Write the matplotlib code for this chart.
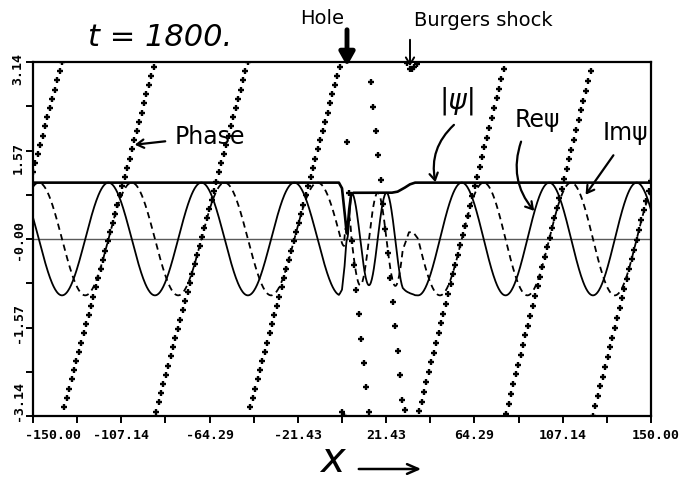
import numpy as np
import matplotlib
matplotlib.use('Agg')
from matplotlib import pyplot as plt
from matplotlib import transforms
from matplotlib.ticker import FixedLocator

# unwrapped phase of psi (x, radians)
phase_x = [-150.0, 1.0, 2.4, 4.6, 29.5, 32.5, 34.5, 36.9, 150.0]
phase_u = [1.18, 22.21, 20.50, 18.85, 9.64, 9.30, 9.30, 9.42, 26.16]

# |psi|
amp_x = [-150.0, -1.5, 0.0, 1.2, 2.4, 3.4, 4.4, 5.5, 24.0, 27.0, 30.0, 33.0, 35.5, 150.0]
amp_v = [1.0, 1.0, 0.9, 0.5, 0.05, 0.5, 0.78, 0.82, 0.82, 0.84, 0.9, 0.97, 1.0, 1.0]

xticks = [-150.00, -107.14, -64.29, -21.43, 21.43, 64.29, 107.14, 150.00]
xticklabels = ['-150.00', '-107.14', '-64.29', '-21.43', '21.43', '64.29', '107.14', '150.00']
yticks = [-3.14, -1.57, 0.0, 1.57, 3.14]
yticklabels = ['-3.14', '-1.57', '-0.00', '1.57', '3.14']

W, H = 688, 489
fig = plt.figure(figsize=(W / 100, H / 100), dpi=100)
ax = fig.add_axes([33 / W, 1 - 417 / H, 618 / W, 354 / H])

x = np.linspace(-150, 150, 1201)
xg = np.linspace(-150, 150, 257)   # grid of the phase points
theta = np.interp(x, phase_x, phase_u)
amp = np.interp(x, amp_x, amp_v)
re = amp * np.cos(theta)
im = amp * np.sin(theta)
ph = np.angle(np.exp(1j * np.interp(xg, phase_x, phase_u)))

ax.axhline(0, color='0.35', lw=1.0)
ax.plot(x, amp, color='k', lw=1.9)
ax.plot(x, re, color='k', lw=1.3)
ax.plot(x, im, color='k', lw=1.3, ls=(0, (3.5, 2.5)))
ax.plot(xg, ph, ls='none', marker='+', ms=4, mew=1.7, color='k')

ax.set_xlim(-150, 150)
ax.set_ylim(-3.14, 3.14)
for s in ax.spines.values():
    s.set_linewidth(1.6)

ax.xaxis.set_major_locator(FixedLocator(xticks))
ax.xaxis.set_minor_locator(FixedLocator([-128.57, -85.71, -42.86, 0.0, 42.86, 85.71, 128.57]))
ax.yaxis.set_major_locator(FixedLocator(yticks))
ax.yaxis.set_minor_locator(FixedLocator([-2.355, -0.785, 0.785, 2.355]))
ax.set_xticklabels(xticklabels, family='DejaVu Sans Mono', fontsize=9.5, fontweight='bold')
ax.set_yticklabels(yticklabels, family='DejaVu Sans Mono', fontsize=9.5, fontweight='bold',
                   rotation=90, va='center')
ax.tick_params(which='both', direction='out', length=5, width=1.4)
ax.tick_params(axis='x', pad=4)
ax.tick_params(axis='y', pad=1)

# nudge the end labels like the plotter did
def shift(lab, dx, dy):
    lab.set_transform(lab.get_transform() + transforms.ScaledTranslation(dx / 100, dy / 100, fig.dpi_scale_trans))

xl = ax.get_xticklabels()
shift(xl[0], 20, 0)
shift(xl[-1], 5, 0)
yl = ax.get_yticklabels()
shift(yl[0], 0, 16)
shift(yl[1], 0, 5)
shift(yl[3], 0, -7)
shift(yl[4], 0, -6)


def fp(px, py):
    return (px / W, 1 - py / H)


hand = dict(family='DejaVu Sans', color='k')
fig.text(*fp(160, 38), 't = 1800.', fontsize=22, style='italic', ha='center', va='center', **hand)
fig.text(*fp(322, 18), 'Hole', fontsize=14, ha='center', va='center', **hand)
fig.text(*fp(483, 20), 'Burgers shock', fontsize=14, ha='center', va='center', **hand)
fig.text(*fp(210, 137), 'Phase', fontsize=17, ha='center', va='center', **hand)
fig.text(*fp(458, 101), '|ψ|', fontsize=20, style='italic', ha='center', va='center', **hand)
fig.text(*fp(537, 120), 'Reψ', fontsize=17, ha='center', va='center', **hand)
fig.text(*fp(625, 133), 'Imψ', fontsize=17, ha='center', va='center', **hand)
fig.text(*fp(333, 460), '$x$', fontsize=30, ha='center', va='center', **hand)

arr = dict(xycoords='figure fraction', textcoords='figure fraction')
ax.annotate('', xy=fp(347, 70), xytext=fp(347, 28), **arr,
            arrowprops=dict(arrowstyle='-|>,head_width=0.45,head_length=0.8', lw=3.5, color='k'))
ax.annotate('', xy=fp(410, 70), xytext=fp(410, 38), **arr,
            arrowprops=dict(arrowstyle='->,head_width=0.3,head_length=0.5', lw=1.4, color='k'))
ax.annotate('', xy=fp(132, 146), xytext=fp(168, 142), **arr,
            arrowprops=dict(arrowstyle='->,head_width=0.3,head_length=0.5', lw=1.6, color='k'))
ax.annotate('', xy=fp(436, 186), xytext=fp(456, 124), **arr,
            arrowprops=dict(arrowstyle='->,head_width=0.3,head_length=0.5', lw=1.6, color='k',
                            connectionstyle='arc3,rad=0.3'))
ax.annotate('', xy=fp(536, 214), xytext=fp(522, 140), **arr,
            arrowprops=dict(arrowstyle='->,head_width=0.3,head_length=0.5', lw=1.6, color='k',
                            connectionstyle='arc3,rad=0.3'))
ax.annotate('', xy=fp(584, 198), xytext=fp(615, 154), **arr,
            arrowprops=dict(arrowstyle='->,head_width=0.3,head_length=0.5', lw=1.6, color='k'))
ax.annotate('', xy=fp(424, 470), xytext=fp(356, 470), **arr,
            arrowprops=dict(arrowstyle='->,head_width=0.35,head_length=0.8', lw=1.8, color='k'))

fig.savefig('out.png', dpi=100)
